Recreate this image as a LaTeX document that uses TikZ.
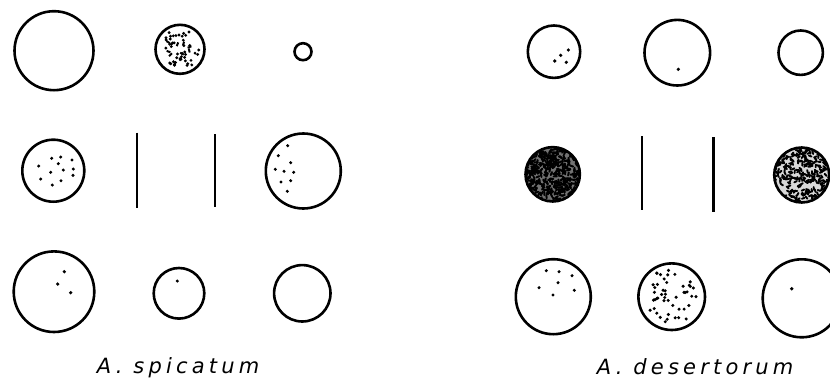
\documentclass[tikz,border=0pt]{standalone}
\usepackage{fontspec}
\newfontfamily\labfont[LetterSpace=20]{DejaVu Sans}
\begin{document}
\begin{tikzpicture}[x=1pt,y=-1pt,
  cell/.style={draw=black,line width=2.6pt},
  bar/.style={draw=black,line width=2.4pt},
  lab/.style={anchor=base west,inner sep=0pt,font=\fontsize{21}{25}\selectfont\labfont\itshape}]
\useasboundingbox (0,0) rectangle (830,388);
\fill[white] (0,0) rectangle (830,388);
\clip (0,0) rectangle (830,388);

% ---------- A. spicatum ----------
% row 1
\draw[cell] (54,50.7) circle (39.5);
\begin{scope}[shift={(180,49.3)}]
  \pgfmathsetseed{11}
  \foreach \i in {1,...,45}{
    \pgfmathsetmacro\aa{360*rnd}
    \pgfmathsetmacro\rr{20.5*sqrt(rnd)}
    \fill (\aa:\rr) circle (1.6);
  }
  \pgfmathsetseed{5}
  \foreach \i in {1,...,8}{
    \pgfmathsetmacro\aa{360*rnd}
    \pgfmathsetmacro\rr{14*sqrt(rnd)}
    \pgfmathsetmacro\tt{360*rnd}
    \draw[line width=2pt] (\aa:\rr) -- ++(\tt:4);
  }
\end{scope}
\draw[cell] (180,49.3) circle (24.5);
\draw[cell] (303,51.7) circle (8.5);

% row 2
\draw[cell] (53.3,170.7) circle (31);
\foreach \p in {(51.7,158.3),(60.7,157),(72,160),(58.3,163.7),(38.7,166),(50.7,172.3),(63.3,170),(73.3,169),(73,175.3),(40.7,179),(61,180.7),(52.3,185)}
  \fill \p circle (1.7);
\draw[bar] (137,132.7) -- (137,207.7);
\draw[bar] (215,134) -- (215,206.7);
\draw[cell] (303.3,171) circle (37.5);
\foreach \p in {(287.7,145.7),(278.3,155.7),(290.7,162.7),(275.3,169.3),(284,171.3),(293.7,172.3),(281,182),(290.7,180.7),(287.3,191.3)}
  \fill \p circle (1.7);

% row 3
\draw[cell] (54,291.7) circle (40.3);
\foreach \p in {(64.3,271.7),(57.7,284),(70.7,292.7)}
  \fill \p circle (1.8);
\draw[cell] (179,293.3) circle (25.3);
\fill (177.3,281) circle (1.7);
\draw[cell] (302.3,293.3) circle (28.2);

\node[lab] (spic) at (96.7,373) {A. spicatum};

% ---------- A. desertorum ----------
% row 1
\draw[cell] (554,51.7) circle (26.2);
\foreach \p in {(568.3,50),(560.7,55.3),(554.7,61),(566.3,62.3)}
  \fill \p circle (1.8);
\draw[cell] (677.3,52.7) circle (32.8);
\fill (678.3,69.3) circle (1.8);
\draw[cell] (800.7,52.7) circle (22.2);

% row 2 (dense texture)
\begin{scope}[shift={(552.7,174.3)}]
  \begin{scope}
    \clip (0,0) circle (26.5);
    \fill[black!55] (0,0) circle (26.5);
    \pgfmathsetseed{21}
    \foreach \i in {1,...,330}{
      \pgfmathsetmacro\aa{360*rnd}
      \pgfmathsetmacro\rr{27*sqrt(rnd)}
      \pgfmathsetmacro\tt{360*rnd}
      \draw[line width=2pt,line cap=round] (\aa:\rr) -- ++(\tt:3.2);
    }
  \end{scope}
  \draw[cell] (0,0) circle (27.2);
\end{scope}
\draw[bar] (641.7,136) -- (641.7,210);
\draw[bar] (713.3,137.3) -- (713.3,212.3);
\begin{scope}[shift={(801.7,175)}]
  \begin{scope}
    \clip (0,0) circle (26.8);
    \fill[black!15] (0,0) circle (26.8);
    \pgfmathsetseed{33}
    \foreach \i in {1,...,240}{
      \pgfmathsetmacro\aa{360*rnd}
      \pgfmathsetmacro\rr{27*sqrt(rnd)}
      \pgfmathsetmacro\tt{360*rnd}
      \draw[line width=1.9pt,line cap=round] (\aa:\rr) -- ++(\tt:2.8);
    }
  \end{scope}
  \draw[cell] (0,0) circle (27.5);
\end{scope}

% row 3
\draw[cell] (553.3,296.7) circle (37.5);
\foreach \p in {(546.3,270.7),(559,271.7),(572,275.7),(558,282.7),(539,287.7),(574.3,290.3),(553,295)}
  \fill \p circle (1.7);
\begin{scope}[shift={(671.7,296.7)}]
  \pgfmathsetseed{47}
  \foreach \i in {1,...,48}{
    \pgfmathsetmacro\aa{360*rnd}
    \pgfmathsetmacro\rr{28*sqrt(rnd)}
    \fill (\aa:\rr) circle (1.7);
  }
\end{scope}
\draw[cell] (671.7,296.7) circle (33.3);
\draw[cell] (801.7,298.3) circle (39);
\fill (791.7,288.7) circle (1.9);

\node[lab] (dese) at (596.7,374) {A. desertorum};
\end{tikzpicture}
\end{document}
